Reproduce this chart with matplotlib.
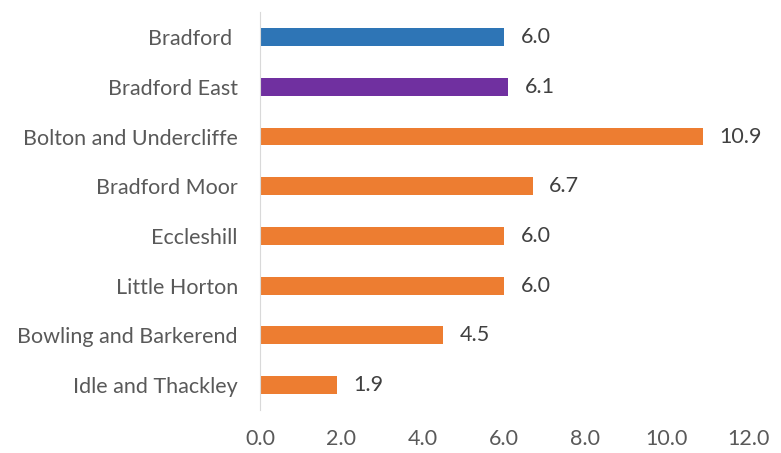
import matplotlib.pyplot as plt

categories = ["Bradford ", "Bradford East", "Bolton and Undercliffe", "Bradford Moor",
              "Eccleshill", "Little Horton", "Bowling and Barkerend", "Idle and Thackley"]
values = [6.0, 6.1, 10.9, 6.7, 6.0, 6.0, 4.5, 1.9]
colors = ["#2E75B6", "#7030A0"] + ["#ED7D31"] * 6
xticks = [0, 2, 4, 6, 8, 10, 12]

plt.rcParams['font.family'] = ['Lato', 'DejaVu Sans']
fs = 15.5

fig = plt.figure(figsize=(7.81, 4.53), dpi=100)
ax = fig.add_axes([0.333, 0.095, 0.625, 0.878])

ypos = list(range(len(categories)))
ax.barh(ypos, values, height=0.36, color=colors)
for y, v in zip(ypos, values):
    ax.text(v + 0.4, y, f"{v:.1f}", va="center", ha="left", fontsize=fs, color="#404040")

ax.set_yticks(ypos)
ax.set_yticklabels(categories, fontsize=fs, color="#595959")
ax.set_ylim(len(categories) - 0.5, -0.5)
ax.set_xlim(0, 12)
ax.set_xticks(xticks)
ax.set_xticklabels([f"{t:.1f}" for t in xticks], fontsize=fs, color="#595959")
ax.tick_params(axis="y", length=0, pad=16)
ax.tick_params(axis="x", length=0, pad=14)
for s in ["top", "right", "bottom"]:
    ax.spines[s].set_visible(False)
ax.spines["left"].set_color("#D9D9D9")

fig.savefig("out.png", dpi=100)
